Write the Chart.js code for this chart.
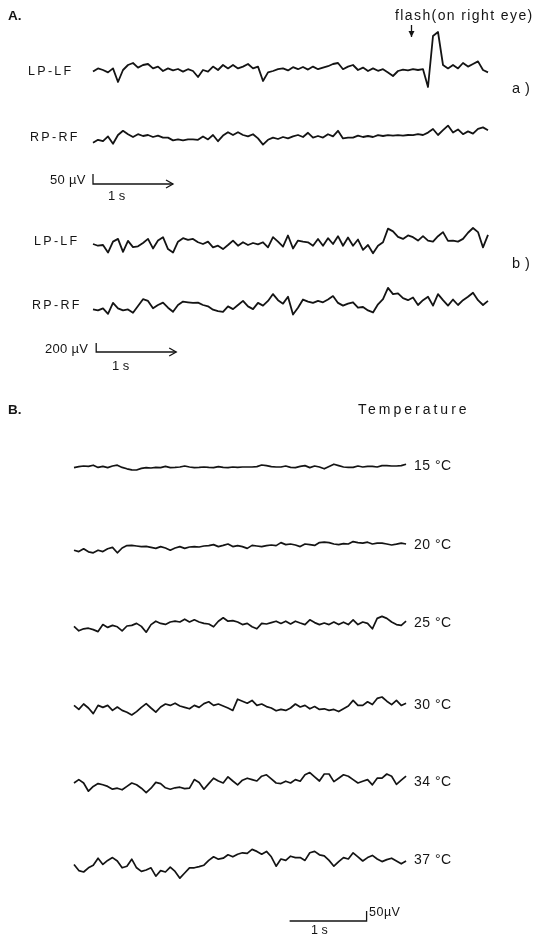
<!DOCTYPE html>
<html>
<head>
<meta charset="utf-8">
<script src="https://cdn.jsdelivr.net/npm/chart.js@4.4.0/dist/chart.umd.min.js"></script>
<style>
    html, body { margin: 0; padding: 0; background: #fff; }
    #wrap { position: relative; width: 541px; height: 936px; overflow: hidden; }
    #fig { position: absolute; left: 0; top: 0; }
    .lbl {
        position: absolute;
        font-family: "Liberation Sans", "DejaVu Sans", sans-serif;
        color: #141414;
        white-space: nowrap;
        line-height: 1;
    }
</style>
</head>
<body>
<div id="wrap">
    <canvas id="fig" width="541" height="936"></canvas>
</div>
<script>
    "use strict";

    // ---- data (µV, one sample every 1/16 s) ----
    var sampleStep = 0.0625;

    // A. a) flash on right eye, 50 µV scale
    var lpLfA = [-8, 8, 0, -12, 8, -60, 0, 25, 35, 12,
        25, 30, 8, 17, -5, 8, -2, 5, -8, 4,
        -5, -35, 0, -8, 17, 0, 25, 8, 25, 8,
        17, 30, 8, 17, -55, -12, -5, 4, 8, -2,
        14, 4, 15, 2, 17, 4, 12, 19, 30, 35,
        4, 17, 25, 0, 12, -5, 8, -4, 4, -12,
        -30, -5, 2, -2, 4, 0, 4, -85, 170, 190,
        25, 8, 25, 8, 35, 17, 30, 43, 0, -12];
    var rpRfA = [-29, -14, -21, 3, -34, 10, 31, 14, 0, 14,
        5, 10, 0, 7, -3, -3, -17, -12, -17, -12,
        -12, -14, 3, -12, 10, -21, 7, 24, 10, 24,
        10, 3, 14, -7, -38, -14, -3, -10, 0, -7,
        3, 10, 0, 21, -3, 5, -3, 14, 3, 31,
        -7, -3, -3, 7, 0, 5, 0, 9, 5, 9,
        7, 9, 7, 10, 9, 14, 10, 22, 40, 10,
        34, 57, 22, 38, 14, 28, 17, 41, 48, 34];

    // A. b) 200 µV scale
    var lpLfB = [0, -38, -22, -188, 52, 112, -172, 68, -68, -52,
        22, 112, -98, 75, 150, -112, -188, 52, 128, 90,
        112, 38, 0, 52, -75, -38, -112, -22, 75, -38,
        38, -22, 22, -8, 38, -75, 150, 52, -60, 188,
        -98, 75, 52, 38, -38, 112, -38, 128, 0, 172,
        -38, 142, -38, 98, -128, -22, -202, -38, 38, 338,
        278, 158, 112, 188, 150, 75, 172, 75, 52, 172,
        262, 68, 75, 52, 112, 248, 352, 262, -75, 200];
    var rpRfB = [-75, -98, -52, -172, 68, -52, -98, -75, -150, 0,
        150, 112, -52, 22, 75, -38, -128, 22, 98, 82,
        68, 75, 22, -8, -82, -112, -128, -8, -68, 22,
        112, -8, -68, 68, 8, 112, 262, 128, 52, 202,
        -188, -38, 142, 98, 68, 112, 82, 142, 218, 68,
        8, 52, 82, -38, -22, -98, -142, 38, 150, 398,
        262, 278, 172, 128, 188, 22, 128, 202, 8, 262,
        128, 8, 142, 22, 128, 202, 292, 128, 22, 112];

    // B. temperature series
    var temperatures = ["15 °C", "20 °C", "25 °C", "30 °C", "34 °C", "37 °C"];
    var t15 = [-3, 2, 5, 3, 9, -2, 3, -3, 5, 9,
        -2, -9, -14, -15, -7, -3, -5, -2, -3, 3,
        -3, -2, 0, 5, 0, -3, -2, 0, -2, -3,
        2, -2, -3, 0, -2, 0, 0, 0, 2, 10,
        7, 2, 0, 0, 5, -2, -3, 3, 7, -3,
        5, 0, -9, 3, 14, 7, 0, -2, -2, 5,
        0, 3, 3, 0, 7, 7, 5, 5, 7, 14];
    var t20 = [-21, -28, -14, -29, -34, -21, -28, -14, -7, -34,
        -10, 2, 3, 0, -3, -2, -7, -12, -3, -10,
        -21, -10, -3, -12, -5, -3, -5, 0, 2, 7,
        -3, 3, 10, -3, 2, -3, -12, 3, 0, -3,
        2, 5, 2, 17, 7, 10, 5, -3, 10, 7,
        3, 17, 19, 17, 10, 7, 12, 10, 22, 17,
        14, 19, 10, 14, 14, 10, 5, 9, 14, 10];
    var t25 = [-12, -34, -24, -21, -28, -38, -3, -17, -7, -14,
        -34, -10, -7, 3, -12, -41, -3, 14, 3, -2,
        10, 14, 10, 24, 10, 21, 10, 3, 0, -14,
        14, 31, 14, 17, 10, -3, 3, -14, -24, 3,
        0, 7, 14, 3, 14, 0, 14, 5, -3, 21,
        7, -3, 5, -3, 10, -3, 9, -3, 21, -3,
        10, 3, -24, 28, 38, 28, 10, -3, -7, 14];
    var t30 = [3, -17, 10, -10, -38, 3, -7, 3, -22, -5,
        -22, -31, -45, -28, -7, 12, -10, -31, -5, 10,
        3, 14, 0, -7, -14, 3, -7, 12, 21, 3,
        10, 0, -10, -22, 34, 24, 14, 28, 3, 10,
        -3, -10, -24, -17, -22, -10, 10, -5, 3, -14,
        -3, -17, -14, -22, -17, -28, -14, 0, 28, 3,
        3, 21, 7, 38, 45, 24, 7, 28, 3, 14];
    var t34 = [0, 17, 0, -41, -17, -3, -9, -17, -31, -26,
        -34, -17, 0, -9, -26, -48, -26, 3, -3, -24,
        -31, -24, -21, -28, -26, 17, 3, -31, -3, 24,
        10, 0, 31, 10, -9, 14, 24, 17, 10, 34,
        41, 21, 0, -3, 9, 0, 17, 9, 41, 52,
        31, 10, 45, 45, 7, 24, 41, 34, 17, 0,
        9, 17, -9, 24, 24, 45, 34, -7, 14, 34];
    var t37 = [-17, -48, -55, -34, -21, 14, -17, 3, 17, 0,
        -34, -26, 9, -34, -52, -45, -34, -76, -48, -55,
        -31, -52, -86, -60, -34, -34, -28, -21, 3, 21,
        9, 14, 31, 21, 34, 41, 38, 58, 48, 34,
        48, 21, -26, 10, 3, 24, 17, 17, 3, 41,
        48, 31, 26, 3, -26, -3, 17, 10, 41, 21,
        0, 17, 28, 10, -3, 7, 14, 0, -14, 0];

    // calibration bars: [µV, s]
    var calA = [50, 1];
    var calAb = [200, 1];
    var calB = [50, 1];
    var flashTime = 3.98; // s, on the a) trace

    // ---- layout ----
    var W = 541, H = 936;
    var rowsA = [70, 137, 244, 306];
    var rowsB = [467, 546, 624, 706, 783, 861];
    var ink = '#141414';

    var xAxis = function (startPx, pxPerSec) {
        return { type: 'linear', display: false, min: -startPx / pxPerSec, max: (W - startPx) / pxPerSec };
    };
    var yAxis = function (basePx, uvPerPx) {
        return { type: 'linear', display: false, min: -(H - basePx) * uvPerPx, max: basePx * uvPerPx };
    };

    var scales = {
        xA: xAxis(93, 80),
        xB: xAxis(74, 77),
        yA0: yAxis(rowsA[0], 5),
        yA1: yAxis(rowsA[1], 5),
        yA2: yAxis(rowsA[2], 22),
        yA3: yAxis(rowsA[3], 22),
        yCalA: yAxis(184, 5),
        yCalAb: yAxis(352, 22),
        yCalB: yAxis(921, 5)
    };
    rowsB.forEach(function (row, i) {
        scales['yB' + i] = yAxis(row, 5);
    });

    var trace = function (values, xID, yID, width) {
        return {
            data: values.map(function (v, i) { return { x: i * sampleStep, y: v }; }),
            xAxisID: xID,
            yAxisID: yID,
            borderColor: ink,
            borderWidth: width,
            pointRadius: 0,
            tension: 0,
            fill: false,
            borderJoinStyle: 'round'
        };
    };
    var bar = function (pts, xID, yID) {
        return {
            data: pts,
            xAxisID: xID,
            yAxisID: yID,
            borderColor: ink,
            borderWidth: 1.3,
            pointRadius: 0,
            tension: 0,
            fill: false
        };
    };

    var calBStart = 2.8;
    var datasets = [
        trace(lpLfA, 'xA', 'yA0', 1.8),
        trace(rpRfA, 'xA', 'yA1', 1.8),
        trace(lpLfB, 'xA', 'yA2', 1.8),
        trace(rpRfB, 'xA', 'yA3', 1.8),
        bar([{ x: 0, y: calA[0] }, { x: 0, y: 0 }, { x: calA[1], y: 0 }], 'xA', 'yCalA'),
        bar([{ x: 0.04, y: calAb[0] }, { x: 0.04, y: 0 }, { x: 0.04 + calAb[1], y: 0 }], 'xA', 'yCalAb'),
        bar([{ x: calBStart, y: 0 }, { x: calBStart + calB[1], y: 0 }, { x: calBStart + calB[1], y: calB[0] }], 'xB', 'yCalB')
    ];
    [t15, t20, t25, t30, t34, t37].forEach(function (values, i) {
        datasets.push(trace(values, 'xB', 'yB' + i, 1.7));
    });

    // arrow heads on the time bars and the flash marker
    var arrows = {
        id: 'arrows',
        afterDatasetsDraw: function (chart) {
            var ctx = chart.ctx;
            ctx.save();
            ctx.strokeStyle = ink;
            ctx.lineWidth = 1.3;
            [4, 5].forEach(function (di) {
                var pts = chart.getDatasetMeta(di).data;
                var p = pts[pts.length - 1];
                ctx.beginPath();
                ctx.moveTo(p.x - 7, p.y - 4);
                ctx.lineTo(p.x, p.y);
                ctx.lineTo(p.x - 7, p.y + 4);
                ctx.stroke();
            });
            var fx = Math.round(chart.scales.xA.getPixelForValue(flashTime)) + 0.5;
            ctx.beginPath();
            ctx.moveTo(fx, 25);
            ctx.lineTo(fx, 37);
            ctx.stroke();
            ctx.beginPath();
            ctx.moveTo(fx - 3, 31);
            ctx.lineTo(fx, 37);
            ctx.lineTo(fx + 3, 31);
            ctx.closePath();
            ctx.fillStyle = ink;
            ctx.fill();
            ctx.restore();
        }
    };

    new Chart(document.getElementById('fig'), {
        type: 'line',
        data: { datasets: datasets },
        options: {
            responsive: false,
            animation: false,
            devicePixelRatio: 1,
            layout: { padding: 0 },
            plugins: { legend: { display: false }, tooltip: { enabled: false } },
            scales: scales
        },
        plugins: [arrows]
    });

    // ---- text: [text, left, centre y, size, letter spacing, weight] ----
    var labels = [
        ['A.', 8, 16, 13.5, 0, 'bold'],
        ['flash(on right eye)', 395, 16, 14, 1.4, 'normal'],
        ['LP-LF', 28, 72, 12.5, 2.3, 'normal'],
        ['a )', 512, 89, 14.5, 0.5, 'normal'],
        ['RP-RF', 30, 138, 12.5, 2.3, 'normal'],
        ['50 µV', 50, 180, 13, 0.3, 'normal'],
        ['1 s', 108, 196, 13, 0, 'normal'],
        ['LP-LF', 34, 242, 12.5, 2.3, 'normal'],
        ['b )', 512, 264, 14.5, 0.5, 'normal'],
        ['RP-RF', 32, 306, 12.5, 2.3, 'normal'],
        ['200 µV', 45, 349, 13, 0.3, 'normal'],
        ['1 s', 112, 366, 13, 0, 'normal'],
        ['B.', 8, 410, 13.5, 0, 'bold'],
        ['Temperature', 358, 410, 14, 3, 'normal'],
        ['50µV', 369, 913, 12.5, 0.5, 'normal'],
        ['1 s', 311, 931, 12.5, 0, 'normal']
    ];
    temperatures.forEach(function (t, i) {
        labels.push([t, 414, rowsB[i] - 1, 14, 0.5, 'normal']);
    });

    var wrap = document.getElementById('wrap');
    labels.forEach(function (l) {
        var d = document.createElement('div');
        d.className = 'lbl';
        d.textContent = l[0];
        d.style.left = l[1] + 'px';
        d.style.top = (l[2] - l[3] * 0.55) + 'px';
        d.style.fontSize = l[3] + 'px';
        d.style.letterSpacing = l[4] + 'px';
        d.style.fontWeight = l[5];
        wrap.appendChild(d);
    });
</script>
</body>
</html>
